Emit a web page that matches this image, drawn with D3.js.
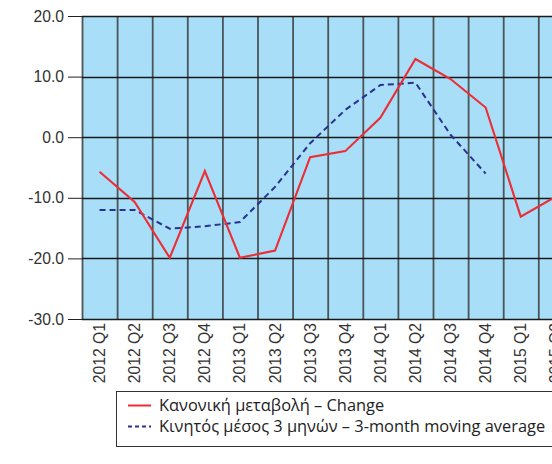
<!DOCTYPE html>
<html lang="el">
<head>
<meta charset="UTF-8">
<script src="https://cdn.jsdelivr.net/npm/d3@7/dist/d3.min.js"></script>
<style>
  body { margin: 0; overflow: hidden; background: #fff; }
  svg { display: block; font-family: "Open Sans", sans-serif; }
  .axis text { font-size: 15.7px; fill: #333; }
  .axis path { display: none; }
  .axis line { stroke: #222; }
  .legend text { font-size: 16.4px; fill: #222; }
</style>
</head>
<body>
<div id="chart"></div>
<script>
// quarters (the chart is cut off at the right edge)
var quarters = ["2012 Q1", "2012 Q2", "2012 Q3", "2012 Q4",
                "2013 Q1", "2013 Q2", "2013 Q3", "2013 Q4",
                "2014 Q1", "2014 Q2", "2014 Q3", "2014 Q4",
                "2015 Q1", "2015 Q2"];
var change = [-5.7, -10.7, -19.9, -5.6, -19.9, -18.7, -3.3, -2.3,
              3.2, 12.9, 9.6, 4.9, -13.1, -9.8];
var movingAvg = [-12.0, -12.0, -15.1, -14.7, -14.0, -8.2, -1.0, 4.5,
                 8.6, 9.0, 0.4, -6.0, null, null];
var yTicks = [-30, -20, -10, 0, 10, 20];
var legendLabels = ["Κανονική μεταβολή – Change",
                    "Κινητός μέσος 3 μηνών – 3-month moving average"];

var margin = {left: 82, top: 16};
var width = quarters.length * 35.1;
var height = 303;

var svg = d3.select("#chart").append("svg")
  .attr("width", 640)
  .attr("height", 464);

var g = svg.append("g")
  .attr("transform", "translate(" + margin.left + "," + margin.top + ")");

var x = d3.scaleBand().domain(quarters).range([0, width]).padding(0);
var y = d3.scaleLinear().domain([-30, 20]).range([height, 0]);

// plot background
g.append("rect")
  .attr("width", width)
  .attr("height", height)
  .attr("fill", "#a9def8");

// vertical grid at category boundaries
g.selectAll(".vgrid")
  .data(quarters)
  .enter().append("line")
  .attr("x1", function(d) { return x(d) + 0.5; })
  .attr("x2", function(d) { return x(d) + 0.5; })
  .attr("y1", 0)
  .attr("y2", height)
  .attr("stroke", "#4a5558")
  .attr("stroke-width", 1.8);

// horizontal grid
g.selectAll(".hgrid")
  .data(yTicks)
  .enter().append("line")
  .attr("x1", 0)
  .attr("x2", width)
  .attr("y1", function(d) { return Math.round(y(d)) + 0.5; })
  .attr("y2", function(d) { return Math.round(y(d)) + 0.5; })
  .attr("stroke", "#1a1a1a")
  .attr("stroke-width", 1.4);

// y axis
g.append("g")
  .attr("class", "axis")
  .call(d3.axisLeft(y).tickValues(yTicks).tickSize(14).tickPadding(4)
    .tickFormat(function(d) { return d.toFixed(1); }));

// x axis labels, rotated
g.append("g")
  .attr("class", "axis")
  .attr("transform", "translate(0," + height + ")")
  .call(d3.axisBottom(x).tickSize(0).tickPadding(0))
  .selectAll("text")
  .attr("transform", "rotate(-90)")
  .attr("x", -4)
  .attr("dx", 0)
  .attr("y", 0)
  .attr("dy", "0.35em")
  .style("text-anchor", "end");

var lineGen = d3.line()
  .defined(function(d) { return d != null; })
  .x(function(d, i) { return x(quarters[i]) + x.bandwidth() / 2; })
  .y(function(d) { return y(d); });

g.append("path")
  .datum(movingAvg)
  .attr("fill", "none")
  .attr("stroke", "#2b3190")
  .attr("stroke-width", 2)
  .attr("stroke-dasharray", "6,4")
  .attr("d", lineGen);

g.append("path")
  .datum(change)
  .attr("fill", "none")
  .attr("stroke", "#ec2d35")
  .attr("stroke-width", 2.1)
  .attr("d", lineGen);

// legend
var legend = svg.append("g").attr("class", "legend");
legend.append("rect")
  .attr("x", 116.5)
  .attr("y", 391.5)
  .attr("width", 500)
  .attr("height", 55)
  .attr("fill", "#fff")
  .attr("stroke", "#333")
  .attr("stroke-width", 1);

var legendStyles = [{color: "#ec2d35", dash: null}, {color: "#2b3190", dash: "4,3"}];
legendLabels.forEach(function(label, i) {
  var ly = 405.5 + i * 21;
  legend.append("line")
    .attr("x1", 128).attr("x2", 151)
    .attr("y1", ly).attr("y2", ly)
    .attr("stroke", legendStyles[i].color)
    .attr("stroke-width", 2)
    .attr("stroke-dasharray", legendStyles[i].dash);
  legend.append("text")
    .attr("x", 159)
    .attr("y", ly)
    .attr("dy", "0.35em")
    .text(label);
});
</script>
</body>
</html>
